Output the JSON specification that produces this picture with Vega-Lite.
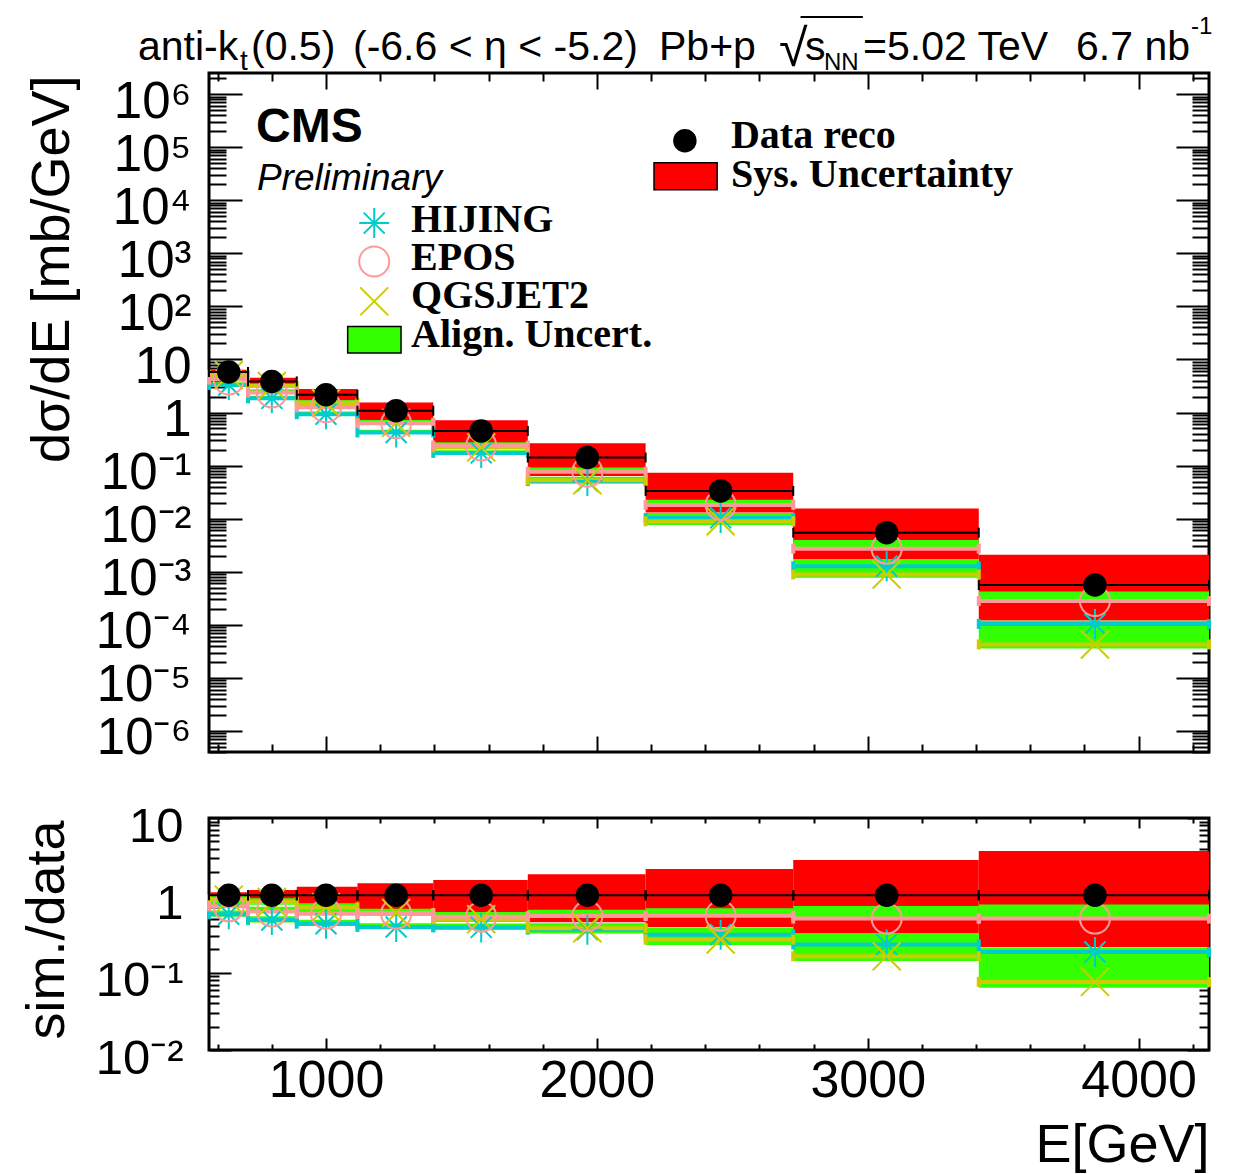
{
"$schema": "https://vega.github.io/schema/vega-lite/v6.json",
"background": "white",
"padding": {"left": 18, "top": 13, "right": 5, "bottom": 5},
"spacing": 66,
"bounds": "flush",
"config": {
  "view": {"stroke": "black", "strokeWidth": 3},
  "axis": {"grid": false, "domain": false, "tickColor": "black", "tickWidth": 2, "labelFont": "Liberation Sans", "labelColor": "black", "titleFont": "Liberation Sans", "titleColor": "black", "titleFontWeight": "normal", "labelOverlap": false, "labelBound": false, "labelFlush": false}
},
"datasets": {
  "top": [
    {"x0":568,"x1":712,"xc":641,"d":5.8,"slo":5.22,"shi":6.38,"h":3.306,"e":4.176,"q":5.104,"hlo":3.074,"hhi":3.7,"elo":4.176,"ehi":4.814,"qlo":4.698,"qhi":5.719},
    {"x0":712,"x1":892,"xc":800,"d":3.85,"slo":3.2725,"shi":4.5,"h":1.848,"e":2.387,"q":3.157,"hlo":1.717,"hhi":2.071,"elo":2.387,"ehi":2.734,"qlo":2.903,"qhi":3.534},
    {"x0":892,"x1":1116,"xc":1000,"d":2.16,"slo":1.685,"shi":2.786,"h":0.9288,"e":1.2528,"q":1.512,"hlo":0.864,"hhi":1.041,"elo":1.2528,"ehi":1.447,"qlo":1.391,"qhi":1.693},
    {"x0":1116,"x1":1396,"xc":1259,"d":1.08,"slo":0.6966,"shi":1.544,"h":0.4212,"e":0.6264,"q":0.6372,"hlo":0.392,"hhi":0.472,"elo":0.6264,"ehi":0.7236,"qlo":0.5864,"qhi":0.7139},
    {"x0":1396,"x1":1745,"xc":1573,"d":0.45,"slo":0.2655,"shi":0.711,"h":0.17325,"e":0.2385,"q":0.2205,"hlo":0.1611,"hhi":0.194,"elo":0.2385,"ehi":0.2745,"qlo":0.203,"qhi":0.247},
    {"x0":1745,"x1":2180,"xc":1965,"d":0.1415,"slo":0.06368,"shi":0.2646,"h":0.05094,"e":0.07641,"q":0.05306,"hlo":0.0474,"hhi":0.06141,"elo":0.07641,"ehi":0.09198,"qlo":0.04528,"qhi":0.05094},
    {"x0":2180,"x1":2725,"xc":2457,"d":0.0333,"slo":0.012987,"shi":0.07293,"h":0.010323,"e":0.018149,"q":0.008924,"hlo":0.00959,"hhi":0.01282,"elo":0.018149,"ehi":0.022644,"qlo":0.007592,"qhi":0.010323},
    {"x0":2725,"x1":3410,"xc":3070,"d":0.00544,"slo":0.001741,"shi":0.01556,"h":0.001262,"e":0.00272,"q":0.000887,"hlo":0.001175,"hhi":0.001741,"elo":0.00272,"ehi":0.003971,"qlo":0.0007725,"qhi":0.001262},
    {"x0":3410,"x1":4260,"xc":3839,"d":0.00056,"slo":0.0001204,"shi":0.002094,"h":0.0001036,"e":0.00028,"q":0.0000426,"hlo":0.0000963,"hhi":0.0001187,"elo":0.00028,"ehi":0.0004256,"qlo":0.00003584,"qhi":0.0001036}
  ],
  "ratio": [
    {"x0":568,"x1":712,"xc":641,"d":1,"slo":0.9,"shi":1.1,"h":0.57,"e":0.72,"q":0.88,"hlo":0.53,"hhi":0.638,"elo":0.72,"ehi":0.83,"qlo":0.81,"qhi":0.986},
    {"x0":712,"x1":892,"xc":800,"d":1,"slo":0.85,"shi":1.17,"h":0.48,"e":0.62,"q":0.82,"hlo":0.446,"hhi":0.538,"elo":0.62,"ehi":0.71,"qlo":0.754,"qhi":0.918},
    {"x0":892,"x1":1116,"xc":1000,"d":1,"slo":0.78,"shi":1.29,"h":0.43,"e":0.58,"q":0.7,"hlo":0.4,"hhi":0.482,"elo":0.58,"ehi":0.67,"qlo":0.644,"qhi":0.784},
    {"x0":1116,"x1":1396,"xc":1259,"d":1,"slo":0.645,"shi":1.43,"h":0.39,"e":0.58,"q":0.59,"hlo":0.363,"hhi":0.437,"elo":0.58,"ehi":0.67,"qlo":0.543,"qhi":0.661},
    {"x0":1396,"x1":1745,"xc":1573,"d":1,"slo":0.59,"shi":1.58,"h":0.385,"e":0.53,"q":0.49,"hlo":0.358,"hhi":0.431,"elo":0.53,"ehi":0.61,"qlo":0.451,"qhi":0.549},
    {"x0":1745,"x1":2180,"xc":1965,"d":1,"slo":0.45,"shi":1.87,"h":0.36,"e":0.54,"q":0.375,"hlo":0.335,"hhi":0.434,"elo":0.54,"ehi":0.65,"qlo":0.32,"qhi":0.36},
    {"x0":2180,"x1":2725,"xc":2457,"d":1,"slo":0.39,"shi":2.19,"h":0.31,"e":0.545,"q":0.268,"hlo":0.288,"hhi":0.385,"elo":0.545,"ehi":0.68,"qlo":0.228,"qhi":0.31},
    {"x0":2725,"x1":3410,"xc":3070,"d":1,"slo":0.32,"shi":2.86,"h":0.232,"e":0.5,"q":0.163,"hlo":0.216,"hhi":0.32,"elo":0.5,"ehi":0.73,"qlo":0.142,"qhi":0.232},
    {"x0":3410,"x1":4260,"xc":3839,"d":1,"slo":0.215,"shi":3.74,"h":0.185,"e":0.5,"q":0.076,"hlo":0.172,"hhi":0.212,"elo":0.5,"ehi":0.76,"qlo":0.064,"qhi":0.185}
  ]
},
"vconcat": [
{
  "width": 1000, "height": 679,
  "data": {"name": "top"},
  "layer": [
    {"mark": {"type": "rect", "color": "#ff0000"},
     "encoding": {
       "x": {"field": "x0", "type": "quantitative", "scale": {"domain": [568, 4260], "nice": false, "zero": false},
             "axis": {"orient": "bottom", "title": null, "labels": false, "values": [600,800,1000,1200,1400,1600,1800,2000,2200,2400,2600,2800,3000,3200,3400,3600,3800,4000,4200],
                      "tickSize": {"condition": {"test": "datum.value % 1000 == 0", "value": -16}, "value": -8}}},
       "x2": {"field": "x1"},
       "y": {"field": "slo", "type": "quantitative", "scale": {"type": "log", "domain": [4e-7, 2.5e6], "nice": false},
             "axis": {"orient": "left", "title": "dσ/dE [mb/GeV]", "titleFontSize": 54, "titleAngle": 270, "titleAlign": "right", "titleBaseline": "alphabetic", "titleX": -141, "titleY": 2,
                      "values": [4e-7,5e-7,6e-7,7e-7,8e-7,9e-7,1e-6,2e-6,3e-6,4e-6,5e-6,6e-6,7e-6,8e-6,9e-6,1e-5,2e-5,3e-5,4e-5,5e-5,6e-5,7e-5,8e-5,9e-5,1e-4,2e-4,3e-4,4e-4,5e-4,6e-4,7e-4,8e-4,9e-4,0.001,0.002,0.003,0.004,0.005,0.006,0.007,0.008,0.009,0.01,0.02,0.03,0.04,0.05,0.06,0.07,0.08,0.09,0.1,0.2,0.3,0.4,0.5,0.6,0.7,0.8,0.9,1,2,3,4,5,6,7,8,9,10,20,30,40,50,60,70,80,90,100,200,300,400,500,600,700,800,900,1000,2000,3000,4000,5000,6000,7000,8000,9000,10000,20000,30000,40000,50000,60000,70000,80000,90000,100000,200000,300000,400000,500000,600000,700000,800000,900000,1000000,2000000],
                      "labelExpr": "abs(log(datum.value)/LN10 - round(log(datum.value)/LN10)) > 1e-6 ? '' : (round(log(datum.value)/LN10) == 0 ? '1' : (round(log(datum.value)/LN10) == 1 ? '10' : '10' + (datum.value < 1 ? '⁻' : '') + ['⁰','¹','²','³','⁴','⁵','⁶','⁷','⁸','⁹'][abs(round(log(datum.value)/LN10))]))",
                      "labelFontSize": 51, "labelAlign": "right", "labelBaseline": "alphabetic", "labelOffset": 23, "labelPadding": 51,
                      "tickSize": {"condition": {"test": "abs(log(datum.value)/LN10 - round(log(datum.value)/LN10)) < 1e-6", "value": -33}, "value": -17}}},
       "y2": {"field": "shi"}}},
    {"mark": {"type": "rect", "color": "#33ff00"},
     "encoding": {"x": {"field": "x0", "type": "quantitative", "axis": null}, "x2": {"field": "x1"}, "y": {"field": "hlo", "type": "quantitative", "axis": null}, "y2": {"field": "hhi"}}},
    {"mark": {"type": "rect", "color": "#33ff00"},
     "encoding": {"x": {"field": "x0", "type": "quantitative", "axis": null}, "x2": {"field": "x1"}, "y": {"field": "elo", "type": "quantitative", "axis": null}, "y2": {"field": "ehi"}}},
    {"mark": {"type": "rect", "color": "#33ff00"},
     "encoding": {"x": {"field": "x0", "type": "quantitative", "axis": null}, "x2": {"field": "x1"}, "y": {"field": "qlo", "type": "quantitative", "axis": null}, "y2": {"field": "qhi"}}},
    {"mark": {"type": "rule", "color": "#00cccc", "strokeWidth": 4},
     "encoding": {"x": {"field": "x0", "type": "quantitative", "axis": null}, "x2": {"field": "x1"}, "y": {"field": "h", "type": "quantitative", "axis": null}}},
    {"mark": {"type": "rule", "color": "#cccc00", "strokeWidth": 4},
     "encoding": {"x": {"field": "x0", "type": "quantitative", "axis": null}, "x2": {"field": "x1"}, "y": {"field": "q", "type": "quantitative", "axis": null}}},
    {"mark": {"type": "rule", "color": "#ff9999", "strokeWidth": 4},
     "encoding": {"x": {"field": "x0", "type": "quantitative", "axis": null}, "x2": {"field": "x1"}, "y": {"field": "e", "type": "quantitative", "axis": null}}},
    {"transform": [{"fold": ["x0", "x1"], "as": ["edge", "xe"]}],
     "mark": {"type": "tick", "orient": "vertical", "size": 10, "thickness": 4, "color": "#00cccc", "opacity": 1},
     "encoding": {"x": {"field": "xe", "type": "quantitative", "axis": null}, "y": {"field": "h", "type": "quantitative", "axis": null}}},
    {"transform": [{"fold": ["x0", "x1"], "as": ["edge", "xe"]}],
     "mark": {"type": "tick", "orient": "vertical", "size": 10, "thickness": 4, "color": "#cccc00", "opacity": 1},
     "encoding": {"x": {"field": "xe", "type": "quantitative", "axis": null}, "y": {"field": "q", "type": "quantitative", "axis": null}}},
    {"transform": [{"fold": ["x0", "x1"], "as": ["edge", "xe"]}],
     "mark": {"type": "tick", "orient": "vertical", "size": 10, "thickness": 4, "color": "#ff9999", "opacity": 1},
     "encoding": {"x": {"field": "xe", "type": "quantitative", "axis": null}, "y": {"field": "e", "type": "quantitative", "axis": null}}},
    {"mark": {"type": "point", "shape": "M-1,0L1,0M0,-1L0,1M-0.7,-0.7L0.7,0.7M-0.7,0.7L0.7,-0.7", "size": 900, "filled": false, "stroke": "#00cccc", "strokeWidth": 2, "opacity": 1},
     "encoding": {"x": {"field": "xc", "type": "quantitative", "axis": null}, "y": {"field": "h", "type": "quantitative", "axis": null}}},
    {"mark": {"type": "point", "shape": "M-1,-1L1,1M-1,1L1,-1", "size": 784, "filled": false, "stroke": "#cccc00", "strokeWidth": 2, "opacity": 1},
     "encoding": {"x": {"field": "xc", "type": "quantitative", "axis": null}, "y": {"field": "q", "type": "quantitative", "axis": null}}},
    {"mark": {"type": "point", "shape": "circle", "size": 900, "filled": false, "stroke": "#ff9999", "strokeWidth": 2, "opacity": 1},
     "encoding": {"x": {"field": "xc", "type": "quantitative", "axis": null}, "y": {"field": "e", "type": "quantitative", "axis": null}}},
    {"mark": {"type": "rule", "color": "black", "strokeWidth": 2},
     "encoding": {
       "x": {"field": "x0", "type": "quantitative",
             "axis": {"orient": "top", "title": null, "labels": false, "values": [600,800,1000,1200,1400,1600,1800,2000,2200,2400,2600,2800,3000,3200,3400,3600,3800,4000,4200],
                      "tickSize": {"condition": {"test": "datum.value % 1000 == 0", "value": -16}, "value": -8}}},
       "x2": {"field": "x1"},
       "y": {"field": "d", "type": "quantitative",
             "axis": {"orient": "right", "title": null, "labels": false,
                      "values": [4e-7,5e-7,6e-7,7e-7,8e-7,9e-7,1e-6,2e-6,3e-6,4e-6,5e-6,6e-6,7e-6,8e-6,9e-6,1e-5,2e-5,3e-5,4e-5,5e-5,6e-5,7e-5,8e-5,9e-5,1e-4,2e-4,3e-4,4e-4,5e-4,6e-4,7e-4,8e-4,9e-4,0.001,0.002,0.003,0.004,0.005,0.006,0.007,0.008,0.009,0.01,0.02,0.03,0.04,0.05,0.06,0.07,0.08,0.09,0.1,0.2,0.3,0.4,0.5,0.6,0.7,0.8,0.9,1,2,3,4,5,6,7,8,9,10,20,30,40,50,60,70,80,90,100,200,300,400,500,600,700,800,900,1000,2000,3000,4000,5000,6000,7000,8000,9000,10000,20000,30000,40000,50000,60000,70000,80000,90000,100000,200000,300000,400000,500000,600000,700000,800000,900000,1000000,2000000],
                      "tickSize": {"condition": {"test": "abs(log(datum.value)/LN10 - round(log(datum.value)/LN10)) < 1e-6", "value": -33}, "value": -17}}}}},
    {"transform": [{"fold": ["x0", "x1"], "as": ["edge", "xe"]}],
     "mark": {"type": "tick", "orient": "vertical", "size": 10, "thickness": 2, "color": "black", "opacity": 1},
     "encoding": {"x": {"field": "xe", "type": "quantitative", "axis": null}, "y": {"field": "d", "type": "quantitative", "axis": null}}},
    {"mark": {"type": "point", "shape": "circle", "size": 550, "filled": true, "color": "black", "opacity": 1},
     "encoding": {"x": {"field": "xc", "type": "quantitative", "axis": null}, "y": {"field": "d", "type": "quantitative", "axis": null}}},

    {"data": {"values": [{}]}, "mark": {"type": "text", "text": "CMS", "font": "Liberation Sans", "fontWeight": "bold", "fontSize": 48, "align": "left", "baseline": "alphabetic", "color": "black"},
     "encoding": {"x": {"datum": 741.5, "axis": null}, "y": {"datum": 126000, "axis": null}}},
    {"data": {"values": [{}]}, "mark": {"type": "text", "text": "Preliminary", "font": "Liberation Sans", "fontStyle": "italic", "fontSize": 37, "align": "left", "baseline": "alphabetic", "color": "black"},
     "encoding": {"x": {"datum": 745, "axis": null}, "y": {"datum": 15700, "axis": null}}},
    {"data": {"values": [{}]}, "mark": {"type": "text", "text": "HIJING", "font": "Liberation Serif", "fontWeight": "bold", "fontSize": 40, "align": "left", "baseline": "alphabetic", "color": "black"},
     "encoding": {"x": {"datum": 1314, "axis": null}, "y": {"datum": 2467, "axis": null}}},
    {"data": {"values": [{}]}, "mark": {"type": "text", "text": "EPOS", "font": "Liberation Serif", "fontWeight": "bold", "fontSize": 40, "align": "left", "baseline": "alphabetic", "color": "black"},
     "encoding": {"x": {"datum": 1314, "axis": null}, "y": {"datum": 489, "axis": null}}},
    {"data": {"values": [{}]}, "mark": {"type": "text", "text": "QGSJET2", "font": "Liberation Serif", "fontWeight": "bold", "fontSize": 40, "align": "left", "baseline": "alphabetic", "color": "black"},
     "encoding": {"x": {"datum": 1314, "axis": null}, "y": {"datum": 94, "axis": null}}},
    {"data": {"values": [{}]}, "mark": {"type": "text", "text": "Align. Uncert.", "font": "Liberation Serif", "fontWeight": "bold", "fontSize": 40, "align": "left", "baseline": "alphabetic", "color": "black"},
     "encoding": {"x": {"datum": 1314, "axis": null}, "y": {"datum": 17.5, "axis": null}}},
    {"data": {"values": [{}]}, "mark": {"type": "text", "text": "Data reco", "font": "Liberation Serif", "fontWeight": "bold", "fontSize": 40, "align": "left", "baseline": "alphabetic", "color": "black"},
     "encoding": {"x": {"datum": 2495, "axis": null}, "y": {"datum": 97500, "axis": null}}},
    {"data": {"values": [{}]}, "mark": {"type": "text", "text": "Sys. Uncertainty", "font": "Liberation Serif", "fontWeight": "bold", "fontSize": 40, "align": "left", "baseline": "alphabetic", "color": "black"},
     "encoding": {"x": {"datum": 2495, "axis": null}, "y": {"datum": 17900, "axis": null}}},
    {"data": {"values": [{}]}, "mark": {"type": "point", "shape": "M-1,0L1,0M0,-1L0,1M-0.7,-0.7L0.7,0.7M-0.7,0.7L0.7,-0.7", "size": 900, "filled": false, "stroke": "#00cccc", "strokeWidth": 2, "opacity": 1},
     "encoding": {"x": {"datum": 1178, "axis": null}, "y": {"datum": 3708, "axis": null}}},
    {"data": {"values": [{}]}, "mark": {"type": "point", "shape": "circle", "size": 900, "filled": false, "stroke": "#ff9999", "strokeWidth": 2, "opacity": 1},
     "encoding": {"x": {"datum": 1178, "axis": null}, "y": {"datum": 701, "axis": null}}},
    {"data": {"values": [{}]}, "mark": {"type": "point", "shape": "M-1,-1L1,1M-1,1L1,-1", "size": 784, "filled": false, "stroke": "#cccc00", "strokeWidth": 2, "opacity": 1},
     "encoding": {"x": {"datum": 1178, "axis": null}, "y": {"datum": 124, "axis": null}}},
    {"data": {"values": [{}]}, "mark": {"type": "rect", "fill": "#33ff00", "stroke": "black", "strokeWidth": 1.5},
     "encoding": {"x": {"datum": 1080, "axis": null}, "x2": {"datum": 1277}, "y": {"datum": 41.8, "axis": null}, "y2": {"datum": 13.2}}},
    {"data": {"values": [{}]}, "mark": {"type": "point", "shape": "circle", "size": 550, "filled": true, "color": "black", "opacity": 1},
     "encoding": {"x": {"datum": 2325, "axis": null}, "y": {"datum": 132000, "axis": null}}},
    {"data": {"values": [{}]}, "mark": {"type": "rect", "fill": "#ff0000", "stroke": "black", "strokeWidth": 1.5},
     "encoding": {"x": {"datum": 2211, "axis": null}, "x2": {"datum": 2444}, "y": {"datum": 50800, "axis": null}, "y2": {"datum": 15700}}},

    {"data": {"values": [{}]}, "mark": {"type": "text", "text": "anti-k", "font": "Liberation Sans", "fontSize": 41, "align": "left", "baseline": "alphabetic", "color": "black"},
     "encoding": {"x": {"datum": 305.9, "axis": null}, "y": {"datum": 4400000, "axis": null}}},
    {"data": {"values": [{}]}, "mark": {"type": "text", "text": "t", "font": "Liberation Sans", "fontSize": 28, "align": "left", "baseline": "alphabetic", "color": "black"},
     "encoding": {"x": {"datum": 682.5, "axis": null}, "y": {"datum": 2850000, "axis": null}}},
    {"data": {"values": [{}]}, "mark": {"type": "text", "text": "(0.5)", "font": "Liberation Sans", "fontSize": 41, "align": "left", "baseline": "alphabetic", "color": "black"},
     "encoding": {"x": {"datum": 723, "axis": null}, "y": {"datum": 4400000, "axis": null}}},
    {"data": {"values": [{}]}, "mark": {"type": "text", "text": "(-6.6 < η < -5.2)", "font": "Liberation Sans", "fontSize": 41, "align": "left", "baseline": "alphabetic", "color": "black"},
     "encoding": {"x": {"datum": 1099.6, "axis": null}, "y": {"datum": 4400000, "axis": null}}},
    {"data": {"values": [{}]}, "mark": {"type": "text", "text": "Pb+p", "font": "Liberation Sans", "fontSize": 41, "align": "left", "baseline": "alphabetic", "color": "black"},
     "encoding": {"x": {"datum": 2229.4, "axis": null}, "y": {"datum": 4400000, "axis": null}}},
    {"data": {"values": [{}]}, "mark": {"type": "text", "text": "√", "font": "Liberation Sans", "fontSize": 52, "align": "left", "baseline": "alphabetic", "color": "black"},
     "encoding": {"x": {"datum": 2672, "axis": null}, "y": {"datum": 3400000, "axis": null}}},
    {"data": {"values": [{}]}, "mark": {"type": "rule", "color": "black", "strokeWidth": 2},
     "encoding": {"x": {"datum": 2752, "axis": null}, "x2": {"datum": 2982}, "y": {"datum": 28500000, "axis": null}}},
    {"data": {"values": [{}]}, "mark": {"type": "text", "text": "s", "font": "Liberation Sans", "fontSize": 41, "align": "left", "baseline": "alphabetic", "color": "black"},
     "encoding": {"x": {"datum": 2768.4, "axis": null}, "y": {"datum": 4400000, "axis": null}}},
    {"data": {"values": [{}]}, "mark": {"type": "text", "text": "NN", "font": "Liberation Sans", "fontSize": 24, "align": "left", "baseline": "alphabetic", "color": "black"},
     "encoding": {"x": {"datum": 2838.6, "axis": null}, "y": {"datum": 2850000, "axis": null}}},
    {"data": {"values": [{}]}, "mark": {"type": "text", "text": "=5.02 TeV", "font": "Liberation Sans", "fontSize": 41, "align": "left", "baseline": "alphabetic", "color": "black"},
     "encoding": {"x": {"datum": 2982.6, "axis": null}, "y": {"datum": 4400000, "axis": null}}},
    {"data": {"values": [{}]}, "mark": {"type": "text", "text": "6.7 nb", "font": "Liberation Sans", "fontSize": 41, "align": "left", "baseline": "alphabetic", "color": "black"},
     "encoding": {"x": {"datum": 3769, "axis": null}, "y": {"datum": 4400000, "axis": null}}},
    {"data": {"values": [{}]}, "mark": {"type": "text", "text": "-1", "font": "Liberation Sans", "fontSize": 24, "align": "left", "baseline": "alphabetic", "color": "black"},
     "encoding": {"x": {"datum": 4193.5, "axis": null}, "y": {"datum": 13600000, "axis": null}}}
  ]
},
{
  "width": 1000, "height": 232,
  "data": {"name": "ratio"},
  "layer": [
    {"mark": {"type": "rect", "color": "#ff0000"},
     "encoding": {
       "x": {"field": "x0", "type": "quantitative", "scale": {"domain": [568, 4260], "nice": false, "zero": false},
             "axis": {"orient": "bottom", "values": [600,800,1000,1200,1400,1600,1800,2000,2200,2400,2600,2800,3000,3200,3400,3600,3800,4000,4200],
                      "labelExpr": "datum.value % 1000 == 0 ? '' + datum.value : ''", "labelFontSize": 52, "labelAlign": "center", "labelBaseline": "alphabetic", "labelPadding": 58,
                      "tickSize": {"condition": {"test": "datum.value % 1000 == 0", "value": -12}, "value": -6},
                      "title": "E[GeV]", "titleFontSize": 54, "titleAlign": "right", "titleBaseline": "alphabetic", "titleX": 1000, "titleY": 111}},
       "x2": {"field": "x1"},
       "y": {"field": "slo", "type": "quantitative", "scale": {"type": "log", "domain": [0.01, 10], "nice": false},
             "axis": {"orient": "left", "title": "sim./data", "titleFontSize": 54, "titleAngle": 270, "titleAlign": "right", "titleBaseline": "alphabetic", "titleX": -146, "titleY": 2,
                      "values": [0.01,0.02,0.03,0.04,0.05,0.06,0.07,0.08,0.09,0.1,0.2,0.3,0.4,0.5,0.6,0.7,0.8,0.9,1,2,3,4,5,6,7,8,9,10],
                      "labelExpr": "abs(log(datum.value)/LN10 - round(log(datum.value)/LN10)) > 1e-6 ? '' : (round(log(datum.value)/LN10) == 0 ? '1' : (round(log(datum.value)/LN10) == 1 ? '10' : '10' + (datum.value < 1 ? '⁻' : '') + ['⁰','¹','²','³','⁴','⁵','⁶','⁷','⁸','⁹'][abs(round(log(datum.value)/LN10))]))",
                      "labelFontSize": 49, "labelAlign": "right", "labelBaseline": "alphabetic", "labelOffset": 23, "labelPadding": 48,
                      "tickSize": {"condition": {"test": "abs(log(datum.value)/LN10 - round(log(datum.value)/LN10)) < 1e-6", "value": -22}, "value": -10}}},
       "y2": {"field": "shi"}}},
    {"mark": {"type": "rect", "color": "#33ff00"},
     "encoding": {"x": {"field": "x0", "type": "quantitative", "axis": null}, "x2": {"field": "x1"}, "y": {"field": "hlo", "type": "quantitative", "axis": null}, "y2": {"field": "hhi"}}},
    {"mark": {"type": "rect", "color": "#33ff00"},
     "encoding": {"x": {"field": "x0", "type": "quantitative", "axis": null}, "x2": {"field": "x1"}, "y": {"field": "elo", "type": "quantitative", "axis": null}, "y2": {"field": "ehi"}}},
    {"mark": {"type": "rect", "color": "#33ff00"},
     "encoding": {"x": {"field": "x0", "type": "quantitative", "axis": null}, "x2": {"field": "x1"}, "y": {"field": "qlo", "type": "quantitative", "axis": null}, "y2": {"field": "qhi"}}},
    {"mark": {"type": "rule", "color": "#00cccc", "strokeWidth": 4},
     "encoding": {"x": {"field": "x0", "type": "quantitative", "axis": null}, "x2": {"field": "x1"}, "y": {"field": "h", "type": "quantitative", "axis": null}}},
    {"mark": {"type": "rule", "color": "#cccc00", "strokeWidth": 4},
     "encoding": {"x": {"field": "x0", "type": "quantitative", "axis": null}, "x2": {"field": "x1"}, "y": {"field": "q", "type": "quantitative", "axis": null}}},
    {"mark": {"type": "rule", "color": "#ff9999", "strokeWidth": 4},
     "encoding": {"x": {"field": "x0", "type": "quantitative", "axis": null}, "x2": {"field": "x1"}, "y": {"field": "e", "type": "quantitative", "axis": null}}},
    {"transform": [{"fold": ["x0", "x1"], "as": ["edge", "xe"]}],
     "mark": {"type": "tick", "orient": "vertical", "size": 10, "thickness": 4, "color": "#00cccc", "opacity": 1},
     "encoding": {"x": {"field": "xe", "type": "quantitative", "axis": null}, "y": {"field": "h", "type": "quantitative", "axis": null}}},
    {"transform": [{"fold": ["x0", "x1"], "as": ["edge", "xe"]}],
     "mark": {"type": "tick", "orient": "vertical", "size": 10, "thickness": 4, "color": "#cccc00", "opacity": 1},
     "encoding": {"x": {"field": "xe", "type": "quantitative", "axis": null}, "y": {"field": "q", "type": "quantitative", "axis": null}}},
    {"transform": [{"fold": ["x0", "x1"], "as": ["edge", "xe"]}],
     "mark": {"type": "tick", "orient": "vertical", "size": 10, "thickness": 4, "color": "#ff9999", "opacity": 1},
     "encoding": {"x": {"field": "xe", "type": "quantitative", "axis": null}, "y": {"field": "e", "type": "quantitative", "axis": null}}},
    {"mark": {"type": "point", "shape": "M-1,0L1,0M0,-1L0,1M-0.7,-0.7L0.7,0.7M-0.7,0.7L0.7,-0.7", "size": 900, "filled": false, "stroke": "#00cccc", "strokeWidth": 2, "opacity": 1},
     "encoding": {"x": {"field": "xc", "type": "quantitative", "axis": null}, "y": {"field": "h", "type": "quantitative", "axis": null}}},
    {"mark": {"type": "point", "shape": "M-1,-1L1,1M-1,1L1,-1", "size": 784, "filled": false, "stroke": "#cccc00", "strokeWidth": 2, "opacity": 1},
     "encoding": {"x": {"field": "xc", "type": "quantitative", "axis": null}, "y": {"field": "q", "type": "quantitative", "axis": null}}},
    {"mark": {"type": "point", "shape": "circle", "size": 900, "filled": false, "stroke": "#ff9999", "strokeWidth": 2, "opacity": 1},
     "encoding": {"x": {"field": "xc", "type": "quantitative", "axis": null}, "y": {"field": "e", "type": "quantitative", "axis": null}}},
    {"mark": {"type": "rule", "color": "black", "strokeWidth": 2},
     "encoding": {
       "x": {"field": "x0", "type": "quantitative",
             "axis": {"orient": "top", "title": null, "labels": false, "values": [600,800,1000,1200,1400,1600,1800,2000,2200,2400,2600,2800,3000,3200,3400,3600,3800,4000,4200],
                      "tickSize": {"condition": {"test": "datum.value % 1000 == 0", "value": -10}, "value": -5}}},
       "x2": {"field": "x1"},
       "y": {"field": "d", "type": "quantitative",
             "axis": {"orient": "right", "title": null, "labels": false,
                      "values": [0.01,0.02,0.03,0.04,0.05,0.06,0.07,0.08,0.09,0.1,0.2,0.3,0.4,0.5,0.6,0.7,0.8,0.9,1,2,3,4,5,6,7,8,9,10],
                      "tickSize": {"condition": {"test": "abs(log(datum.value)/LN10 - round(log(datum.value)/LN10)) < 1e-6", "value": -22}, "value": -10}}}}},
    {"transform": [{"fold": ["x0", "x1"], "as": ["edge", "xe"]}],
     "mark": {"type": "tick", "orient": "vertical", "size": 10, "thickness": 2, "color": "black", "opacity": 1},
     "encoding": {"x": {"field": "xe", "type": "quantitative", "axis": null}, "y": {"field": "d", "type": "quantitative", "axis": null}}},
    {"mark": {"type": "point", "shape": "circle", "size": 550, "filled": true, "color": "black", "opacity": 1},
     "encoding": {"x": {"field": "xc", "type": "quantitative", "axis": null}, "y": {"field": "d", "type": "quantitative", "axis": null}}}
  ]
}
]
}
